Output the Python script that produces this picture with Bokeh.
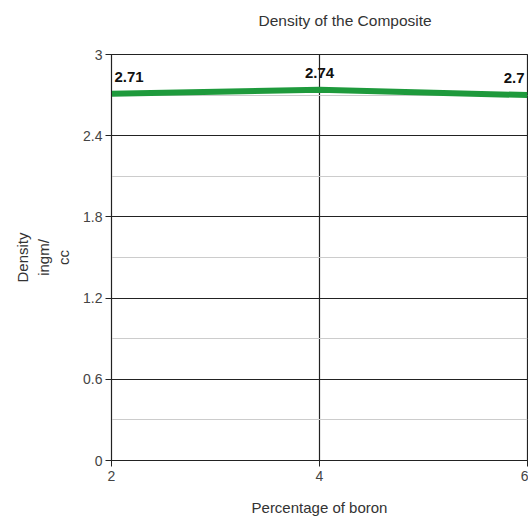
from bokeh.plotting import figure
from bokeh.models import ColumnDataSource, FixedTicker, Range1d, Title
from bokeh.core.properties import value
from bokeh.embed import file_html
from bokeh.resources import INLINE

title_text = "Density of the Composite"
boron = [2, 4, 6]
density = [2.71, 2.74, 2.70]
labels = ["2.71", "2.74", "2.7"]
aligns = ["left", "center", "right"]
xoffs = [3, 0, -3]
y_ticks = [0, 0.6, 1.2, 1.8, 2.4, 3]
y_minor = [0.3, 0.9, 1.5, 2.1, 2.7]
x_ticks = [2, 4, 6]

FONT = "Liberation Sans"

p = figure(width=528, height=518, output_backend="svg", toolbar_location=None,
           x_range=Range1d(2, 6), y_range=Range1d(0, 3),
           min_border_left=111, min_border_right=1, min_border_top=54, min_border_bottom=58)

p.title.text = title_text
p.title.align = "left"
p.title.offset = 147
p.title.text_font = FONT
p.title.text_font_size = "15.5px"
p.title.text_font_style = "normal"
p.title.text_color = "#333333"
p.title.standoff = 0

spacer = Title(text=" ", text_font_size="10px", standoff=13)
p.add_layout(spacer, "above")

p.outline_line_color = "#222222"
p.outline_line_width = 1.2
p.background_fill_color = "white"
p.border_fill_color = "white"

p.xaxis.ticker = FixedTicker(ticks=x_ticks)
p.yaxis.ticker = FixedTicker(ticks=y_ticks, minor_ticks=y_minor)
for ax in (p.xaxis, p.yaxis):
    ax.axis_line_color = "#222222"
    ax.major_tick_line_color = "#222222"
    ax.minor_tick_line_color = None
    ax.major_tick_in = 0
    ax.major_tick_out = 6
    ax.major_label_text_font = FONT
    ax.major_label_text_font_size = "14px"
    ax.major_label_text_color = "#444444"
    ax.axis_label_text_font = FONT
    ax.axis_label_text_font_size = "15px"
    ax.axis_label_text_font_style = "normal"
    ax.axis_label_text_color = "#333333"

p.xaxis.axis_label = "Percentage of boron"
p.xaxis.axis_label_standoff = 15
p.xaxis.major_label_standoff = 4
p.yaxis.axis_label = "Density\ningm/\ncc"
p.yaxis.axis_label_standoff = 8
p.yaxis.major_label_standoff = 3

p.xgrid.ticker = FixedTicker(ticks=[4])
p.xgrid.grid_line_color = "#222222"
p.xgrid.grid_line_width = 1.2
p.ygrid.grid_line_color = "#222222"
p.ygrid.grid_line_width = 1.2
p.ygrid.minor_grid_line_color = "#cccccc"
p.ygrid.minor_grid_line_width = 1

src = ColumnDataSource(dict(x=boron, y=density, t=labels, a=aligns, xo=xoffs))
p.line("x", "y", source=src, line_color="#1e9a3c", line_width=6)
p.text("x", "y", text="t", source=src, text_align="a", x_offset="xo", y_offset=-12,
       text_baseline="bottom", text_font=value(FONT), text_font_size="15px",
       text_font_style="bold", text_color="#111111")

open("out.html", "w").write(file_html(p, INLINE))
